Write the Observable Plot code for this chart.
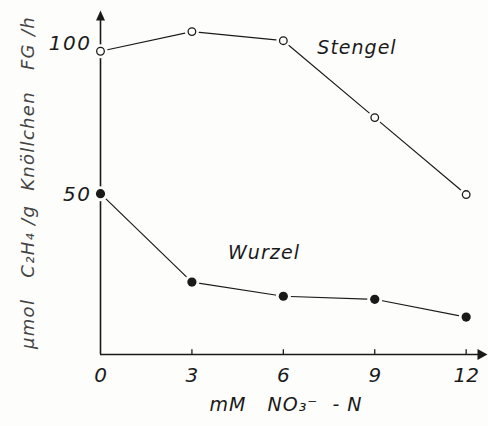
<!DOCTYPE html>
<html>
<head>
<meta charset="utf-8">
<script src="https://cdn.jsdelivr.net/npm/d3@7"></script>
<script src="https://cdn.jsdelivr.net/npm/@observablehq/plot@0.6"></script>
<style>
  html, body { margin: 0; padding: 0; background: #fdfdfb; }
  #chart svg { display: block; }
</style>
</head>
<body>
<div id="chart"></div>
<script>
// Data
const nitrate = [0, 3, 6, 9, 12];                 // mM NO3- - N
const stengel = [97.5, 104, 101, 75.5, 50];       // Stengel (open circles)
const wurzel  = [50.3, 21, 16.3, 15.3, 9.4];      // Wurzel (filled dots)
const xTicks = [0, 3, 6, 9, 12];
const yTicks = [50, 100];
const seriesNames = ["Stengel", "Wurzel"];
const xLabel = "mM\u00A0\u00A0 NO\u2083\u207B\u00A0 - N";
const yLabel = "\u00B5mol\u00A0\u00A0 C\u2082H\u2084\u00A0/g\u00A0 Kn\u00F6llchen\u00A0\u00A0 FG\u00A0/h";

const xMin = 0, xMax = 12.7;
const yMin = -3, yMax = 111;

const stengelData = nitrate.map((x, i) => ({x, y: stengel[i]}));
const wurzelData  = nitrate.map((x, i) => ({x, y: wurzel[i]}));

const ink = "#1a1a1a";
const bg = "#fdfdfb";
const font = "DejaVu Sans, sans-serif";

const upArrow = { draw(ctx) { ctx.moveTo(0, 0); ctx.lineTo(-4.5, 10); ctx.lineTo(4.5, 10); ctx.closePath(); } };
const rightArrow = { draw(ctx) { ctx.moveTo(0, 0); ctx.lineTo(-10, -5.5); ctx.lineTo(-10, 5.5); ctx.closePath(); } };

const plot = Plot.plot({
  width: 488,
  height: 426,
  marginLeft: 100,
  marginRight: 1,
  marginTop: 10,
  marginBottom: 72,
  style: { background: bg, fontFamily: font, overflow: "visible" },
  x: { domain: [xMin, xMax], axis: null },
  y: { domain: [yMin, yMax], axis: null },
  marks: [
    // axes
    Plot.ruleY([yMin], { x1: xMin, x2: xMax - 0.2, stroke: ink, strokeWidth: 1.6 }),
    Plot.ruleX([xMin], { y1: yMin, y2: yMax - 2, stroke: ink, strokeWidth: 1.6 }),
    Plot.dot([{x: xMin, y: yMax}], { x: "x", y: "y", symbol: upArrow, fill: ink, stroke: "none" }),
    Plot.dot([{x: xMax, y: yMin}], { x: "x", y: "y", symbol: rightArrow, fill: ink, stroke: "none" }),
    Plot.ruleX(xTicks.filter(d => d > 0), { x: d => d, y1: yMin, y2: yMin + 1.6, stroke: ink, strokeWidth: 1.3 }),
    // tick labels
    Plot.text(xTicks, { x: d => d, y: yMin, dy: 21, text: d => String(d), fontSize: 20, fontStyle: "italic", fill: ink }),
    Plot.text(yTicks, { x: xMin, y: d => d, dx: -9, textAnchor: "end", text: d => String(d), fontSize: 20, fontStyle: "italic", fill: ink }),
    // axis titles
    Plot.text([xLabel], { frameAnchor: "bottom", textAnchor: "middle", dy: 56, dx: -8, text: d => d, fontSize: 19, fontStyle: "italic", fill: ink }),
    Plot.text([yLabel], { frameAnchor: "left", textAnchor: "middle", dx: -72, rotate: -90, text: d => d, fontSize: 18, fontStyle: "italic", fill: "#444" }),
    // series lines
    Plot.line(stengelData, { x: "x", y: "y", stroke: ink, strokeWidth: 1.2 }),
    Plot.line(wurzelData, { x: "x", y: "y", stroke: ink, strokeWidth: 1.2 }),
    // halos to create gaps between lines and markers
    Plot.dot(stengelData, { x: "x", y: "y", r: 7, fill: bg, stroke: "none" }),
    Plot.dot(wurzelData, { x: "x", y: "y", r: 7.5, fill: bg, stroke: "none" }),
    Plot.dot(stengelData, { x: "x", y: "y", r: 3.8, fill: bg, stroke: ink, strokeWidth: 1.3 }),
    Plot.dot(wurzelData, { x: "x", y: "y", r: 4.6, fill: ink, stroke: "none" }),
    // series labels, anchored to a point of each series
    Plot.text([stengelData[2]], { x: "x", y: "y", dx: 34, dy: 7, text: () => seriesNames[0], textAnchor: "start", fontSize: 19, fontStyle: "italic", fill: ink }),
    Plot.text([wurzelData[1]], { x: "x", y: "y", dx: 36, dy: -29, text: () => seriesNames[1], textAnchor: "start", fontSize: 19, fontStyle: "italic", fill: ink })
  ]
});
// letter spacing (the lettering of the original is widely spaced)
const spacing = new Map([
  [yLabel, 1.3], [xLabel, 1.0], [seriesNames[0], 1.0], [seriesNames[1], 1.1],
  ["100", 1.5], ["50", 1.5]
]);
d3.select(plot).selectAll("text").each(function() {
  const s = spacing.get(this.textContent);
  if (s != null) d3.select(this).attr("letter-spacing", s);
});
document.getElementById("chart").appendChild(plot);
</script>
</body>
</html>
